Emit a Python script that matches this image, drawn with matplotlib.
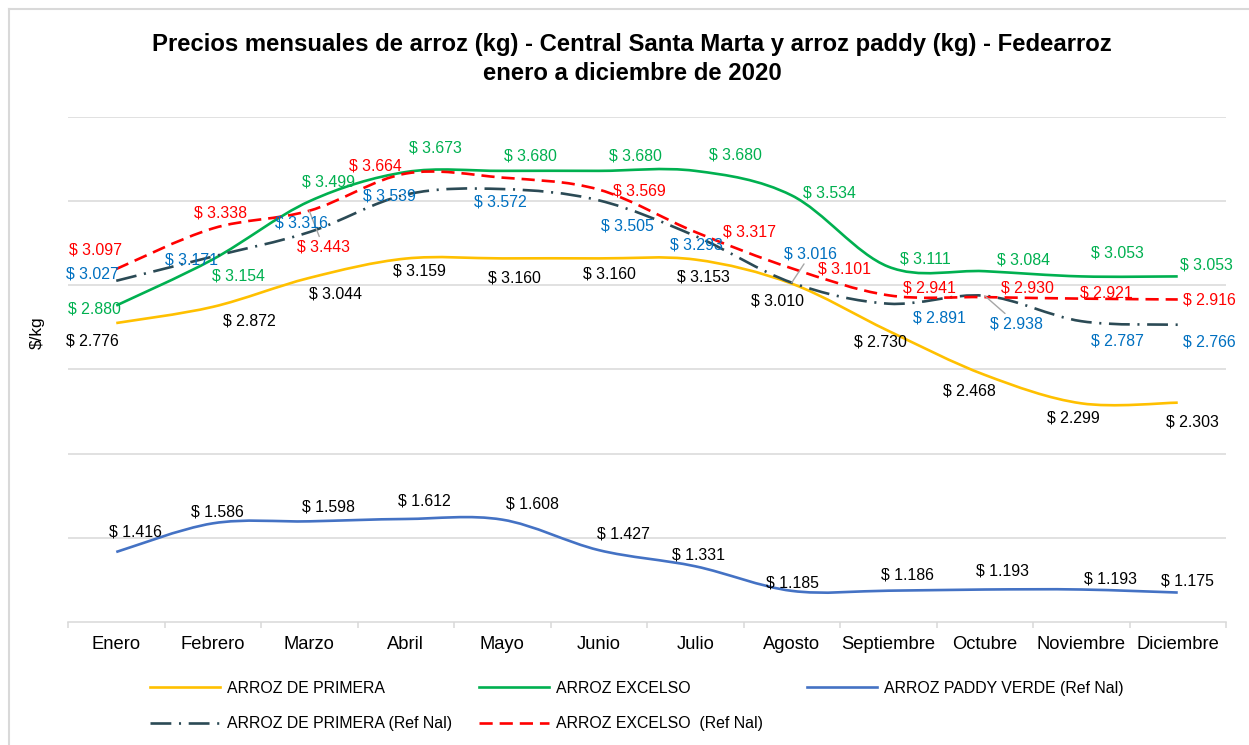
import matplotlib
matplotlib.use('Agg')
import matplotlib.pyplot as plt
from matplotlib.path import Path
from matplotlib.patches import PathPatch
from matplotlib.lines import Line2D
import numpy as np

plt.rcParams['font.family'] = ['Liberation Sans', 'DejaVu Sans']
plt.rcParams['lines.scale_dashes'] = False

# ---------------- data ----------------
months = ['Enero', 'Febrero', 'Marzo', 'Abril', 'Mayo', 'Junio', 'Julio',
          'Agosto', 'Septiembre', 'Octubre', 'Noviembre', 'Diciembre']
primera = [2776, 2872, 3044, 3159, 3160, 3160, 3153, 3010, 2730, 2468, 2299, 2303]
excelso = [2880, 3154, 3499, 3673, 3680, 3680, 3680, 3534, 3111, 3084, 3053, 3053]
paddy = [1416, 1586, 1598, 1612, 1608, 1427, 1331, 1185, 1186, 1193, 1193, 1175]
primera_ref = [3027, 3171, 3316, 3539, 3572, 3505, 3293, 3016, 2891, 2938, 2787, 2766]
excelso_ref = [3097, 3338, 3443, 3664, 3640, 3569, 3317, 3101, 2941, 2930, 2921, 2916]

title = ('Precios mensuales de arroz (kg) - Central Santa Marta y arroz paddy (kg) - Fedearroz\n'
         'enero a diciembre de 2020')

# ---------------- label offsets (pixels, +y up) ----------------
off_primera = [(-24, -18), (37, -14), (26, -16), (14, -12), (12, -20), (11, -16),
               (8, -17), (-14, -17), (-8, -11), (-15, -16), (-8, -15), (15, -19)]
off_excelso = [(-22, -3), (26, -17), (19, 19), (30, 24), (28, 15), (37, 15),
               (40, 16), (38, 2), (37, 8), (39, 11), (36, 23), (29, 11)]
off_excelso_ref = [(-21, 19), (8, 15), (14, -36), (-30, 8), None, (41, -1),
                   (54, 0), (53, -1), (41, 7), (43, 9), (25, 6), (32, -1)]
off_primera_ref = [(-24, 7), (-21, -3), (-8, 9), (-16, -1), (-2, -13), (29, -26),
                   (1, -9), (19, 29), (51, -14), (32, -28), (36, -20), (32, -17)]
off_paddy = [(19, 20), (5, 11), (19, 14), (19, 18), (30, 16), (25, 16),
             (3, 11), (1, 8), (19, 16), (18, 19), (29, 11), (10, 12)]

C_PRI = '#FFC000'
C_EXC = '#00B050'
C_PAD = '#4472C4'
C_PRIREF = '#2B4A55'
C_EXCREF = '#FF0000'
C_BLUE_LBL = '#0070C0'
GRID = '#D9D9D9'

W, H = 1249, 745
fig = plt.figure(figsize=(W / 100, H / 100), dpi=100)
ax = fig.add_axes([68 / W, 1 - 622 / H, 1158 / W, 505 / H])

x = np.arange(len(months))


def smooth_path(xs, ys):
    pts = np.column_stack([xs, ys]).astype(float)
    n = len(pts)
    verts = [pts[0]]
    codes = [Path.MOVETO]
    for i in range(n - 1):
        p0 = pts[i - 1] if i > 0 else pts[i]
        p1 = pts[i]
        p2 = pts[i + 1]
        p3 = pts[i + 2] if i + 2 < n else pts[i + 1]
        c1 = p1 + (p2 - p0) / 6.0
        c2 = p2 - (p3 - p1) / 6.0
        verts += [c1, c2, p2]
        codes += [Path.CURVE4] * 3
    return Path(verts, codes)


LW = 1.9
series = [
    (primera, C_PRI, '-', 'ARROZ DE PRIMERA'),
    (excelso, C_EXC, '-', 'ARROZ EXCELSO'),
    (paddy, C_PAD, '-', 'ARROZ PADDY VERDE (Ref Nal)'),
    (primera_ref, C_PRIREF, (0, (15, 5.5, 1.5, 5.5)), 'ARROZ DE PRIMERA (Ref Nal)'),
    (excelso_ref, C_EXCREF, (0, (9.5, 5)), 'ARROZ EXCELSO  (Ref Nal)'),
]
handles = {}
for vals, col, ls, name in series:
    patch = PathPatch(smooth_path(x, vals), facecolor='none', edgecolor=col,
                      linewidth=LW, linestyle=ls, capstyle='butt', zorder=3)
    ax.add_patch(patch)
    handles[name] = Line2D([], [], color=col, linewidth=LW, linestyle=ls)

ax.set_xlim(-0.5, 11.5)
ax.set_ylim(1000, 4000)
ax.set_yticks(np.arange(1500, 4001, 500))
ax.yaxis.grid(True, color=GRID, linewidth=1.1)
ax.set_axisbelow(True)
ax.tick_params(axis='y', length=0, labelleft=False)
for s in ['top', 'right', 'left']:
    ax.spines[s].set_visible(False)
ax.spines['bottom'].set_color(GRID)
ax.spines['bottom'].set_linewidth(1.1)

ax.set_xticks(np.arange(-0.5, 12, 1))
ax.set_xticklabels([])
ax.tick_params(axis='x', which='major', length=4, color=GRID, width=1.1, direction='out')
ax.set_xticks(x, minor=True)
ax.set_xticklabels(months, minor=True, fontsize=13.2)
ax.tick_params(axis='x', which='minor', length=0, pad=10)


def fmt(v):
    return '$ ' + f'{v:,}'.replace(',', '.')


LBL_FS = 11.4


def put_labels(vals, offs, color):
    for i, (v, o) in enumerate(zip(vals, offs)):
        if o is None:
            continue
        ax.annotate(fmt(v), xy=(i, v), xytext=o, textcoords='offset pixels',
                    ha='center', va='center', fontsize=LBL_FS, color=color, zorder=5)


put_labels(primera, off_primera, 'black')
put_labels(excelso, off_excelso, C_EXC)
put_labels(paddy, off_paddy, 'black')

# labels with leader lines
lead_exc = {2}
lead_pri = {7, 9}
for i, (v, o) in enumerate(zip(excelso_ref, off_excelso_ref)):
    if o is None:
        continue
    ap = dict(arrowstyle='-', color='#A6A6A6', lw=1.0, shrinkA=0, shrinkB=0) if i in lead_exc else None
    ax.annotate(fmt(v), xy=(i, v), xytext=o, textcoords='offset pixels',
                ha='center', va='center', fontsize=LBL_FS, color=C_EXCREF,
                arrowprops=ap, zorder=5)
for i, (v, o) in enumerate(zip(primera_ref, off_primera_ref)):
    ap = dict(arrowstyle='-', color='#A6A6A6', lw=1.0, shrinkA=0, shrinkB=0) if i in lead_pri else None
    ax.annotate(fmt(v), xy=(i, v), xytext=o, textcoords='offset pixels',
                ha='center', va='center', fontsize=LBL_FS, color=C_BLUE_LBL,
                arrowprops=ap, zorder=5)

# title and y label
fig.text(632 / W, 1 - 59 / H, title, ha='center', va='center', fontsize=17.2,
         fontweight='bold', linespacing=1.3)
fig.text(37 / W, 1 - 333 / H, '$/kg', rotation=90, ha='center', va='center', fontsize=12.4)

# chart border
fig.add_artist(Line2D([9 / W, 1], [1 - 9 / H, 1 - 9 / H], transform=fig.transFigure,
                      color=GRID, linewidth=1.5))
fig.add_artist(Line2D([9 / W, 9 / W], [0, 1 - 9 / H], transform=fig.transFigure,
                      color=GRID, linewidth=1.5))

# legends (equal-width columns)
cols = [
    (150, ['ARROZ DE PRIMERA', 'ARROZ DE PRIMERA (Ref Nal)']),
    (479, ['ARROZ EXCELSO', 'ARROZ EXCELSO  (Ref Nal)']),
    (807, ['ARROZ PADDY VERDE (Ref Nal)']),
]
for xpx, names in cols:
    fig.legend([handles[n] for n in names], names, loc='upper left',
               bbox_to_anchor=(xpx / W, 1 - 681 / H), frameon=False,
               fontsize=11.4, handlelength=4.4, handletextpad=0.45,
               borderpad=0, borderaxespad=0, labelspacing=1.27)

fig.savefig('out.png', dpi=100)
